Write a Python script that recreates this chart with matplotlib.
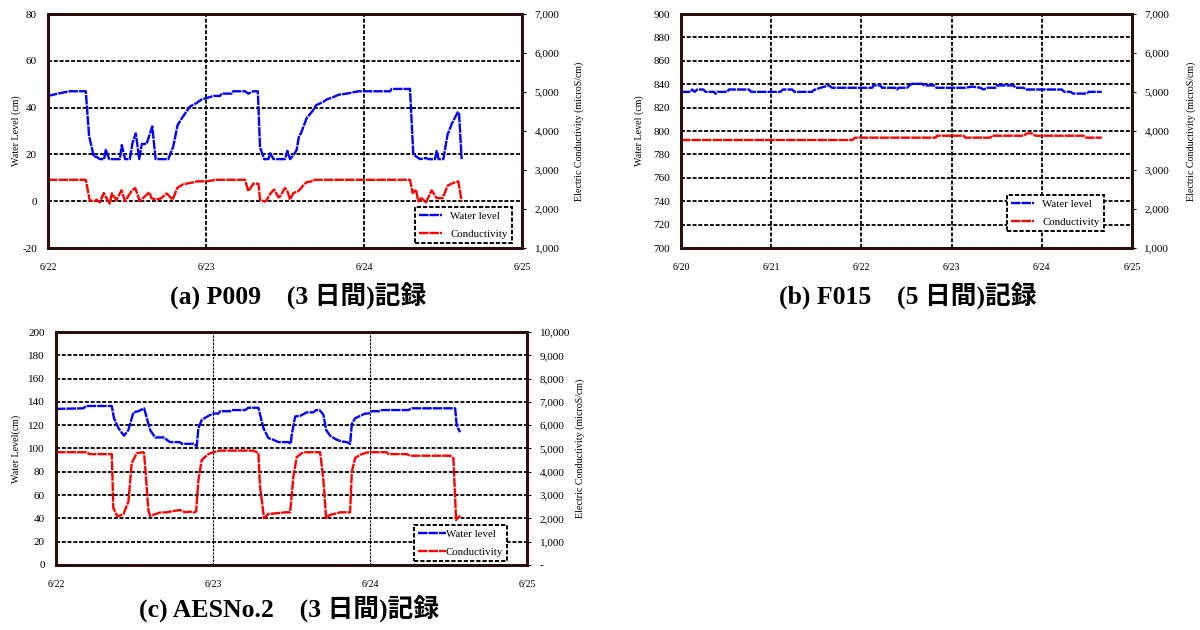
import matplotlib
matplotlib.use("Agg")
import matplotlib.pyplot as plt
from matplotlib.ticker import FuncFormatter, MultipleLocator

plt.rcParams['font.family'] = ['Liberation Serif', 'Noto Sans CJK JP', 'DejaVu Sans']
plt.rcParams['axes.unicode_minus'] = False

# ---------------- (a) P009 : 6/22 - 6/25 ----------------
a_dates = ["6/22", "6/23", "6/24", "6/25"]
a_wl_t = [0, 0.063, 0.137, 0.239, 0.260, 0.290, 0.307, 0.328, 0.355, 0.366, 0.387, 0.455, 0.467,
          0.488, 0.518, 0.535, 0.556, 0.577, 0.594, 0.624, 0.660, 0.681, 0.761, 0.793, 0.820, 0.852,
          0.899, 0.941, 0.972, 1.0, 1.047, 1.089, 1.099, 1.163, 1.173, 1.247, 1.268, 1.300, 1.328,
          1.342, 1.368, 1.395, 1.406, 1.427, 1.500, 1.515, 1.532, 1.557, 1.574, 1.589, 1.601, 1.637,
          1.679, 1.696, 1.743, 1.764, 1.806, 1.838, 1.891, 1.964, 2.165, 2.175, 2.291, 2.312, 2.333,
          2.354, 2.392, 2.407, 2.449, 2.460, 2.472, 2.502, 2.529, 2.555, 2.593, 2.601, 2.618]
a_wl = [45, 46, 47, 47, 28, 19, 19, 18, 18, 22, 18, 18, 24,
        18, 18, 25, 29, 18, 24.5, 24.5, 32, 18, 18, 23.5, 32.5, 36,
        40.5, 42, 43.5, 44, 45, 45, 46, 46, 47, 47, 46, 47, 47,
        23, 18, 18, 20.5, 18, 18, 21.5, 18, 20, 22, 28, 29, 35.5,
        39, 41, 42.5, 43.5, 44.5, 45.5, 46, 47, 47, 48, 48, 20, 19,
        18, 18.5, 18, 18, 21.5, 18, 18, 28.5, 33, 38, 38, 18]
a_ec_t = [0, 0.239, 0.264, 0.296, 0.307, 0.328, 0.353, 0.370, 0.391, 0.404, 0.433, 0.465, 0.488,
          0.529, 0.552, 0.581, 0.641, 0.655, 0.681, 0.713, 0.751, 0.789, 0.818, 0.852, 0.899, 0.930,
          0.941, 1.0, 1.068, 1.247, 1.268, 1.300, 1.332, 1.342, 1.374, 1.385, 1.410, 1.431, 1.459,
          1.468, 1.500, 1.515, 1.532, 1.553, 1.585, 1.616, 1.637, 1.669, 1.679, 2.291, 2.308, 2.329,
          2.343, 2.364, 2.392, 2.428, 2.460, 2.498, 2.529, 2.565, 2.597, 2.618]
a_ec = [2750, 2750, 2220, 2200, 2240, 2170, 2410, 2280, 2140, 2400, 2230, 2480, 2200,
        2460, 2540, 2200, 2430, 2280, 2240, 2270, 2400, 2240, 2540, 2630, 2670, 2690,
        2710, 2710, 2750, 2750, 2460, 2650, 2650, 2240, 2190, 2240, 2410, 2500, 2300,
        2320, 2540, 2460, 2240, 2410, 2460, 2610, 2690, 2710, 2750, 2750, 2410, 2500,
        2200, 2280, 2170, 2480, 2280, 2280, 2600, 2670, 2710, 2200]

# ---------------- (b) F015 : 6/20 - 6/25 ----------------
b_dates = ["6/20", "6/21", "6/22", "6/23", "6/24", "6/25"]
b_wl_t = [0, 0.107, 0.125, 0.151, 0.181, 0.247, 0.273, 0.365, 0.384, 0.402, 0.513, 0.531, 0.753,
          0.779, 1.103, 1.129, 1.232, 1.258, 1.454, 1.472, 1.546, 1.638, 1.675, 2.118, 2.137, 2.210,
          2.229, 2.376, 2.395, 2.413, 2.506, 2.535, 2.561, 2.673, 2.699, 2.802, 2.832, 3.153, 3.227,
          3.319, 3.356, 3.400, 3.485, 3.504, 3.688, 3.707, 3.799, 3.817, 4.223, 4.249, 4.323, 4.345,
          4.500, 4.519, 4.666]
b_wl = [833.5, 833.5, 835.5, 833.5, 835.5, 835.5, 833.5, 833.5, 831.8, 833.5, 833.5, 835.5, 835.5,
        833.5, 833.5, 835.5, 835.5, 833.5, 833.5, 835, 837, 839, 837, 837, 839, 839,
        837, 837, 835.5, 837, 837, 839.2, 840.4, 840.4, 839, 839, 837, 837, 838,
        837, 835.5, 837, 837, 839, 839, 837, 837, 835.5, 835.5, 833.5, 833.5, 832,
        832, 833.5, 833.5]
b_ec_t = [0, 1.90, 1.93, 2.821, 2.839, 3.134, 3.153, 3.430, 3.448, 3.799, 3.836, 3.891, 3.928,
          4.463, 4.493, 4.666]
b_ec = [3770, 3770, 3830, 3830, 3880, 3880, 3830, 3830, 3880, 3880, 3940, 3940, 3880,
        3880, 3830, 3830]

# ---------------- (c) AESNo.2 : 6/22 - 6/25 ----------------
c_dates = ["6/22", "6/23", "6/24", "6/25"]
c_wl_t = [0, 0.174, 0.191, 0.355, 0.369, 0.397, 0.433, 0.461, 0.493, 0.524, 0.561, 0.599, 0.631,
          0.684, 0.726, 0.790, 0.800, 0.875, 0.896, 0.907, 0.928, 0.970, 1.002, 1.034, 1.045, 1.108,
          1.119, 1.204, 1.225, 1.289, 1.321, 1.352, 1.384, 1.416, 1.480, 1.495, 1.501, 1.523, 1.554,
          1.597, 1.639, 1.656, 1.678, 1.703, 1.720, 1.745, 1.788, 1.820, 1.852, 1.873, 1.884, 1.905,
          1.937, 1.968, 1.990, 2.011, 2.064, 2.075, 2.244, 2.266, 2.542, 2.552, 2.573]
c_wl = [134, 134.5, 136.5, 136.5, 126, 117.5, 111, 116, 131, 132, 134.5, 116, 109.5,
        109.5, 105.5, 105.5, 104, 104, 102, 117.5, 124.5, 128, 130, 130, 132, 132,
        133, 133, 135, 135, 117.5, 109, 107.5, 105.5, 105.5, 104, 111.5, 127.5, 128,
        131, 131, 133, 133, 129, 116, 111, 107.5, 106, 105.5, 104, 121, 126,
        128, 130, 130, 132, 132, 133, 133, 134.5, 134.5, 120, 114]
c_ec_t = [0, 0.195, 0.212, 0.355, 0.365, 0.391, 0.429, 0.461, 0.482, 0.514, 0.556, 0.561, 0.588,
          0.599, 0.631, 0.662, 0.705, 0.726, 0.790, 0.822, 0.854, 0.875, 0.892, 0.907, 0.928, 0.970,
          1.002, 1.045, 1.257, 1.278, 1.289, 1.299, 1.325, 1.352, 1.406, 1.459, 1.491, 1.512, 1.533,
          1.565, 1.586, 1.682, 1.703, 1.720, 1.745, 1.788, 1.809, 1.873, 1.884, 1.905, 1.937, 1.968,
          1.990, 2.106, 2.117, 2.234, 2.255, 2.510, 2.531, 2.548, 2.573]
c_ec = [4840, 4840, 4760, 4760, 2440, 2080, 2180, 2720, 4370, 4800, 4840, 4800, 2360,
        2110, 2180, 2250, 2260, 2290, 2360, 2260, 2290, 2250, 2290, 3650, 4510, 4760,
        4840, 4910, 4910, 4840, 4800, 3370, 2010, 2190, 2220, 2260, 2260, 3800, 4630,
        4800, 4840, 4840, 3650, 2010, 2150, 2220, 2260, 2260, 4010, 4590, 4730, 4800,
        4840, 4840, 4760, 4760, 4690, 4690, 4590, 1930, 2120]

LEFT_LABEL = "Water Level (cm)"
RIGHT_LABEL = "Electric Conductivity (microS/cm)"
SPINE = "#2e0c0c"
GRID_LS = (0, (2.2, 1.0))
SERIES_LS = (0, (4.0, 0.45))


def ec_fmt(dash_zero):
    def f(v, pos):
        if dash_zero and abs(v) < 1e-9:
            return "-"
        return f"{v:,.0f}"
    return FuncFormatter(f)


def panel(rect, dates, wl_t, wl, ec_t, ec, ylim, ystep, eclim, ecstep, legend_box,
          ylabel, dash_zero=False, vgrid_lw=1.3, handletextpad=0.8, handlelength=2.1,
          lpad=4, rpad=12):
    ax = fig.add_axes(rect)
    ax2 = ax.twinx()
    ndays = len(dates) - 1
    ax.set_xlim(0, ndays)
    ax.set_ylim(*ylim)
    ax2.set_ylim(*eclim)
    ax.yaxis.set_major_locator(MultipleLocator(ystep))
    ax2.yaxis.set_major_locator(MultipleLocator(ecstep))
    ax2.yaxis.set_major_formatter(ec_fmt(dash_zero))
    ax.set_xticks(range(ndays + 1))
    ax.set_xticklabels(dates)

    ax.yaxis.grid(True, color="black", linestyle=GRID_LS, linewidth=1.3)
    ax.xaxis.grid(True, color="black", linestyle=GRID_LS, linewidth=vgrid_lw)
    ax.set_axisbelow(True)

    l1, = ax.plot(wl_t, wl, color="#0000ff", linestyle=SERIES_LS, linewidth=1.7,
                  label="Water level")
    l2, = ax2.plot(ec_t, ec, color="#ff0000", linestyle=SERIES_LS, linewidth=1.7,
                   label="Conductivity")

    for a in (ax, ax2):
        for s in a.spines.values():
            s.set_color(SPINE)
            s.set_linewidth(2.0)
    ax.tick_params(axis="x", length=0, pad=11, labelsize=7.2)
    ax.tick_params(axis="y", length=0, pad=8, labelsize=8)
    ax2.tick_params(axis="y", length=3, width=0.8, pad=6, labelsize=8, direction="out")

    ax.set_ylabel(ylabel, fontsize=7.2, labelpad=lpad)
    ax2.set_ylabel(RIGHT_LABEL, fontsize=7.2, labelpad=rpad)

    leg = ax2.legend([l1, l2], ["Water level", "Conductivity"], loc="lower right",
                     bbox_to_anchor=legend_box, fontsize=7.8, fancybox=False, framealpha=1,
                     edgecolor="black", handlelength=handlelength,
                     handletextpad=handletextpad, borderpad=0.4, labelspacing=0.75,
                     borderaxespad=0)
    fr = leg.get_frame()
    fr.set_linestyle((0, (2.2, 1.0)))
    fr.set_linewidth(1.4)
    return ax, ax2


fig = plt.figure(figsize=(12, 6.3), dpi=100)

panel([0.040, 0.6063, 0.395, 0.3714], a_dates, a_wl_t, a_wl, a_ec_t, a_ec,
      (-20, 80), 20, (1000, 7000), 1000, (0.979, 0.021), LEFT_LABEL, lpad=0.5, rpad=11)
panel([0.5675, 0.6063, 0.3758, 0.3714], b_dates, b_wl_t, b_wl, b_ec_t, b_ec,
      (700, 900), 20, (1000, 7000), 1000, (0.938, 0.073), LEFT_LABEL, lpad=6.5, rpad=12)
panel([0.0467, 0.1032, 0.3925, 0.3698], c_dates, c_wl_t, c_wl, c_ec_t, c_ec,
      (0, 200), 20, (0, 10000), 1000, (0.958, 0.017), "Water Level(cm)",
      dash_zero=True, vgrid_lw=0.8, handletextpad=0.0, handlelength=2.5, lpad=5.5, rpad=4)

title_kw = dict(fontsize=18.5, fontweight="bold", ha="center", va="center")
fig.text(298 / 1200, 1 - 296 / 630, "(a) P009　(3 日間)記録", **title_kw)
fig.text(908 / 1200, 1 - 296 / 630, "(b) F015　(5 日間)記録", **title_kw)
fig.text(289 / 1200, 1 - 609 / 630, "(c) AESNo.2　(3 日間)記録", **title_kw)

fig.savefig("out.png", dpi=100)
